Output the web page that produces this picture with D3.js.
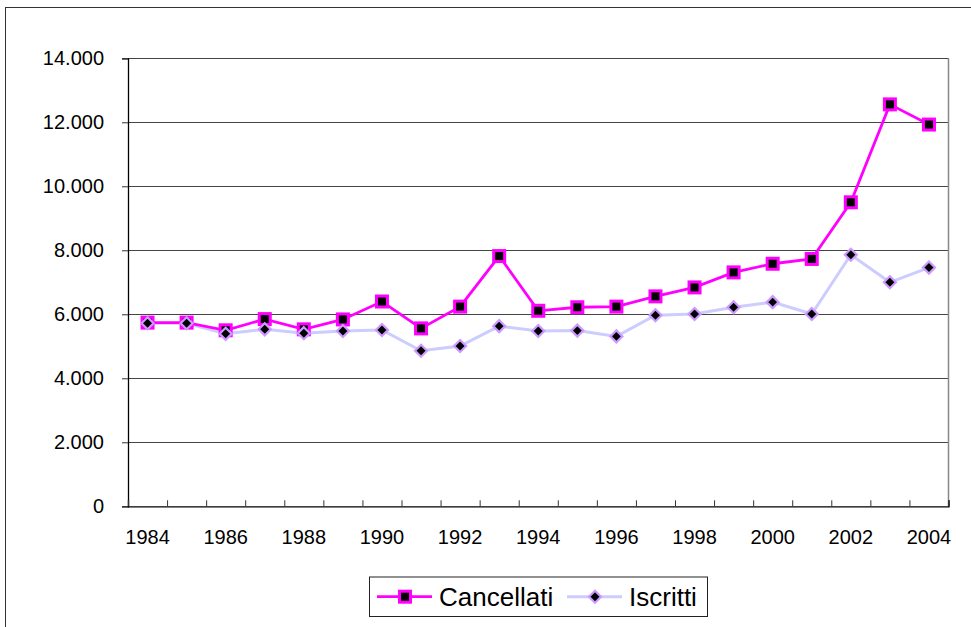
<!DOCTYPE html>
<html>
<head>
<meta charset="utf-8">
<script src="https://cdn.jsdelivr.net/npm/d3@7"></script>
<style>
  html, body { margin: 0; padding: 0; background: #fff; }
  svg { display: block; font-family: "Liberation Sans", Arial, sans-serif; }
</style>
</head>
<body>
<svg id="chart" width="971" height="627"></svg>
<script>
const years = ["1984","1985","1986","1987","1988","1989","1990","1991","1992","1993","1994",
               "1995","1996","1997","1998","1999","2000","2001","2002","2003","2004"];
const cancellati = [5740, 5740, 5500, 5850, 5530, 5840, 6400, 5560, 6240, 7820, 6110,
                    6220, 6240, 6560, 6840, 7310, 7580, 7730, 9500, 12560, 11930];
const iscritti   = [5720, 5720, 5390, 5530, 5410, 5480, 5510, 4860, 5010, 5630, 5480,
                    5490, 5310, 5970, 6010, 6220, 6380, 6010, 7860, 7000, 7460];
const yTicks = [0, 2000, 4000, 6000, 8000, 10000, 12000, 14000];
const xLabelYears = ["1984","1986","1988","1990","1992","1994","1996","1998","2000","2002","2004"];
const seriesNames = ["Cancellati", "Iscritti"];

const svg = d3.select("#chart");
const L = 128, R = 948.5, T = 58.3, B = 506.3;

const itLocale = d3.formatLocale({decimal: ",", thousands: ".", grouping: [3], currency: ["€", ""]});
const fmt = itLocale.format(",");

// outer frame
svg.append("rect").attr("x", 5.5).attr("y", 7.5).attr("width", 990).attr("height", 650)
  .attr("fill", "none").attr("stroke", "#333").attr("stroke-width", 1);

const x = d3.scaleBand().domain(years).range([L, R]).paddingInner(0).paddingOuter(0);
const xIdx = d3.scaleLinear().domain([0, years.length]).range([L, R]);
const y = d3.scaleLinear().domain([0, 14000]).range([B, T]);

// gridlines
svg.append("g").selectAll("line").data(yTicks.filter(d => d > 0)).join("line")
  .attr("x1", L).attr("x2", R)
  .attr("y1", d => Math.round(y(d)) + 0.5).attr("y2", d => Math.round(y(d)) + 0.5)
  .attr("stroke", "#444").attr("stroke-width", 1);

// right frame
svg.append("line").attr("x1", R).attr("x2", R).attr("y1", T).attr("y2", B)
  .attr("stroke", "#888").attr("stroke-width", 1.5);

// y axis
const yAxis = svg.append("g").attr("transform", `translate(${L},0)`)
  .call(d3.axisLeft(y).tickValues(yTicks).tickFormat(fmt).tickSize(6).tickPadding(18));
yAxis.select(".domain").attr("stroke", "#000").attr("stroke-width", 1.3);
yAxis.selectAll(".tick line").attr("stroke", "#333");
yAxis.selectAll("text").attr("font-size", 20).attr("fill", "#000")
  .attr("font-family", "'Liberation Sans', Arial, sans-serif");

// x axis: ticks at category boundaries (inside)
const xTickAxis = svg.append("g").attr("transform", `translate(0,${B})`)
  .call(d3.axisBottom(xIdx).tickValues(d3.range(0, years.length + 1)).tickSize(-6).tickFormat(""));
xTickAxis.select(".domain").attr("stroke", "#000").attr("stroke-width", 1.3);
xTickAxis.selectAll(".tick line").attr("stroke", "#333");

// x labels
const xLab = svg.append("g").attr("transform", `translate(0,${B})`)
  .call(d3.axisBottom(x).tickValues(xLabelYears).tickSize(0).tickPadding(24));
xLab.select(".domain").remove();
xLab.selectAll("text").attr("font-size", 20).attr("fill", "#000")
  .attr("font-family", "'Liberation Sans', Arial, sans-serif");

const cx = d => x(d) + x.bandwidth() / 2;

const line = d3.line().x(d => cx(d.year)).y(d => y(d.v));
const canData = years.map((yr, i) => ({year: yr, v: cancellati[i]}));
const iscData = years.map((yr, i) => ({year: yr, v: iscritti[i]}));

const colCan = "#FF00FF", colIscLine = "#CCCCFF", colIscMark = "#CC99FF";

// Iscritti line + markers (drawn first, under)
svg.append("path").datum(iscData).attr("d", line).attr("fill", "none")
  .attr("stroke", colIscLine).attr("stroke-width", 3);
// Cancellati line
svg.append("path").datum(canData).attr("d", line).attr("fill", "none")
  .attr("stroke", colCan).attr("stroke-width", 2.8);

const diamond = s => `M0,${-s}L${s},0L0,${s}L${-s},0Z`;

svg.append("g").selectAll("rect").data(canData).join("rect")
  .attr("x", d => cx(d.year) - 5.5).attr("y", d => y(d.v) - 5.5)
  .attr("width", 11).attr("height", 11)
  .attr("fill", "#000").attr("stroke", colCan).attr("stroke-width", 3);

svg.append("g").selectAll("path").data(iscData).join("path")
  .attr("transform", d => `translate(${cx(d.year)},${y(d.v)})`)
  .attr("d", diamond(6))
  .attr("fill", "#000").attr("stroke", colIscMark).attr("stroke-width", 2.2);

// legend
const lg = svg.append("g");
lg.append("rect").attr("x", 369.5).attr("y", 577).attr("width", 338).attr("height", 39.5)
  .attr("fill", "#fff").attr("stroke", "#222").attr("stroke-width", 1);
const ly = 596.7;
// Cancellati
lg.append("line").attr("x1", 377).attr("x2", 432).attr("y1", ly).attr("y2", ly)
  .attr("stroke", colCan).attr("stroke-width", 2.8);
lg.append("rect").attr("x", 405 - 5.5).attr("y", ly - 5.5).attr("width", 11).attr("height", 11)
  .attr("fill", "#000").attr("stroke", colCan).attr("stroke-width", 3);
lg.append("text").attr("x", 439).attr("y", ly + 9.5).attr("font-size", 26)
  .attr("fill", "#000").text(seriesNames[0]);
// Iscritti
lg.append("line").attr("x1", 567).attr("x2", 622).attr("y1", ly).attr("y2", ly)
  .attr("stroke", colIscLine).attr("stroke-width", 3);
lg.append("path").attr("transform", `translate(595,${ly})`).attr("d", diamond(6))
  .attr("fill", "#000").attr("stroke", colIscMark).attr("stroke-width", 2.2);
lg.append("text").attr("x", 629).attr("y", ly + 9.5).attr("font-size", 26)
  .attr("fill", "#000").text(seriesNames[1]);
</script>
</body>
</html>
